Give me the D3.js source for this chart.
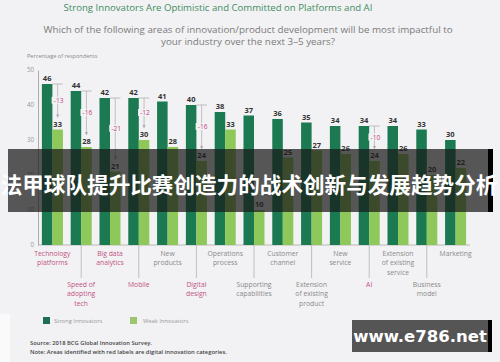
<!DOCTYPE html>
<html><head><meta charset="utf-8">
<script src="https://cdn.jsdelivr.net/npm/d3@7"></script>
<style>html,body{margin:0;padding:0;background:#f2f2f4;}svg{display:block;}</style>
</head><body>
<svg id="c" width="500" height="362"></svg>
<script>
const categories = ["Technology platforms","Speed of adopting tech","Big data analytics","Mobile","New products","Digital design","Operations process","Supporting capabilities","Customer channel","Extension of existing product","New service","AI","Extension of existing service","Business model","Marketing"];
const labelLines = [["Technology","platforms"],["Speed of","adopting","tech"],["Big data","analytics"],["Mobile"],["New","products"],["Digital","design"],["Operations","process"],["Supporting","capabilities"],["Customer","channel"],["Extension","of existing","product"],["New","service"],["AI"],["Extension","of existing","service"],["Business","model"],["Marketing"]];
const strong = [46,44,42,42,41,40,38,37,36,35,34,34,34,33,30];
const weak = [33,28,21,30,28,24,33,10,25,27,26,24,26,20,22];
const digital = [true,true,true,true,false,true,false,false,false,false,false,true,false,false,false];
const yTicks = [0,10,20,30,40,50];

const svg = d3.select("#c");
const W=500,H=362;
svg.append("rect").attr("x",0).attr("y",0).attr("width",W).attr("height",H).attr("fill","#f2f2f4");
svg.append("rect").attr("x",0).attr("y",314).attr("width",10).attr("height",48).attr("fill","#fafafa");

const x = d3.scaleBand().domain(categories).range([38,470]).paddingInner(0.27).paddingOuter(0.135);
const x2 = d3.scaleBand().domain(["s","w"]).range([0,x.bandwidth()]);
const y = d3.scaleLinear().domain([0,50]).range([245,70]);

// titles
svg.append("text").attr("x",218).attr("y",11).attr("text-anchor","middle").attr("font-family","Open Sans, sans-serif").attr("font-size",9.6).attr("fill","#3f8d63").text("Strong Innovators Are Optimistic and Committed on Platforms and AI");
svg.append("text").attr("x",248).attr("y",33).attr("text-anchor","middle").attr("font-family","Open Sans, sans-serif").attr("font-size",9.8).attr("fill","#7a7a7a").text("Which of the following areas of innovation/product development will be most impactful to");
svg.append("text").attr("x",248).attr("y",45).attr("text-anchor","middle").attr("font-family","Open Sans, sans-serif").attr("font-size",9.8).attr("fill","#7a7a7a").text("your industry over the next 3–5 years?");
svg.append("text").attr("x",27).attr("y",58).attr("font-family","Open Sans, sans-serif").attr("font-size",5.6).attr("fill","#888").text("Percentage of respondents");

// y axis
const ya = svg.append("g").attr("transform","translate(38,0)").call(d3.axisLeft(y).tickValues(yTicks).tickSize(0).tickPadding(4));
ya.select(".domain").attr("stroke","#999").attr("stroke-width",0.8);
ya.selectAll("text").attr("font-family","Open Sans, sans-serif").attr("font-size",6.2).attr("fill","#999");

// baseline
svg.append("line").attr("x1",38).attr("x2",470).attr("y1",y(0)).attr("y2",y(0)).attr("stroke","#aaa").attr("stroke-width",0.8);

const g = svg.append("g");
categories.forEach((c,i)=>{
  const gx = x(c);
  g.append("rect").attr("x",gx+x2("s")).attr("y",y(strong[i])).attr("width",x2.bandwidth()).attr("height",y(0)-y(strong[i])).attr("fill","#1b7a52");
  g.append("rect").attr("x",gx+x2("w")).attr("y",y(weak[i])).attr("width",x2.bandwidth()).attr("height",y(0)-y(weak[i])).attr("fill","#8fc85a");
  g.append("text").attr("x",gx+x2("s")+x2.bandwidth()/2).attr("y",y(strong[i])-3).attr("text-anchor","middle").attr("font-family","Open Sans, sans-serif").attr("font-weight","bold").attr("font-size",7.5).attr("fill","#333").text(strong[i]);
  g.append("text").attr("x",gx+x2("w")+x2.bandwidth()/2).attr("y",y(weak[i])-3).attr("text-anchor","middle").attr("font-family","Open Sans, sans-serif").attr("font-weight","bold").attr("font-size",7.5).attr("fill","#333").text(weak[i]);
  if(digital[i]){
    const cx = gx+x2("w")+x2.bandwidth()/2;
    const y1 = y(strong[i]), y2 = y(weak[i])-12;
    g.append("line").attr("x1",gx+x2("w")).attr("x2",gx+x2("w")+x2.bandwidth()).attr("y1",y1).attr("y2",y1).attr("stroke","#aaa").attr("stroke-width",0.7);
    g.append("line").attr("x1",cx).attr("x2",cx).attr("y1",y1).attr("y2",y2).attr("stroke","#aaa").attr("stroke-width",0.7);
    g.append("path").attr("d",`M${cx-1.6},${y2-3}L${cx+1.6},${y2-3}L${cx},${y2}Z`).attr("fill","#aaa");
    const my=(y1+y2)/2;
    g.append("rect").attr("x",cx-6).attr("y",my-4).attr("width",13).attr("height",7).attr("fill","#f2f2f4");
    g.append("text").attr("x",cx+1).attr("y",my+2.3).attr("text-anchor","middle").attr("font-family","Open Sans, sans-serif").attr("font-size",6.6).attr("fill","#c2427c").text("-"+(strong[i]-weak[i]));
  }
  // category labels
  const cx0 = gx + x.bandwidth()/2;
  const odd = i%2===1;
  const y0 = odd?287:256;
  if(odd){
    g.append("line").attr("x1",cx0).attr("x2",cx0).attr("y1",y(0)).attr("y2",278).attr("stroke","#aaa").attr("stroke-width",0.7);
  }
  labelLines[i].forEach((ln,k)=>{
    g.append("text").attr("x",cx0).attr("y",y0+k*9.3).attr("text-anchor","middle").attr("font-family","Open Sans, sans-serif").attr("font-size",6.8).attr("fill",digital[i]?"#c2527f":"#8a8a8a").text(ln);
  });
});

// legend
svg.append("rect").attr("x",43).attr("y",317).attr("width",7).attr("height",7).attr("fill","#1f6e50");
svg.append("text").attr("x",54).attr("y",323).attr("font-family","Open Sans, sans-serif").attr("font-size",5.8).attr("fill","#999").text("Strong Innovators");
svg.append("rect").attr("x",130).attr("y",317).attr("width",7).attr("height",7).attr("fill","#9cc66c");
svg.append("text").attr("x",143).attr("y",323).attr("font-family","Open Sans, sans-serif").attr("font-size",5.8).attr("fill","#999").text("Weak Innovators");

svg.append("text").attr("x",30).attr("y",345).attr("font-family","Open Sans, sans-serif").attr("font-weight","600").attr("font-size",5.8).attr("fill","#444").text("Source: 2018 BCG Global Innovation Survey.");
svg.append("text").attr("x",30).attr("y",354).attr("font-family","Open Sans, sans-serif").attr("font-weight","600").attr("font-size",5.8).attr("fill","#444").text("Note: Areas identified with red labels are digital innovation categories.");

// banner overlay
svg.append("rect").attr("x",8).attr("y",149).attr("width",484).attr("height",63).attr("fill","rgba(25,25,25,0.72)");
svg.append("rect").attr("x",488).attr("y",149).attr("width",5).attr("height",63).attr("fill","#000");
svg.append("text").attr("x",249).attr("y",193).attr("text-anchor","middle").attr("font-family","Noto Sans CJK SC, sans-serif").attr("font-weight","bold").attr("font-size",21.6).attr("fill","#fff").text("法甲球队提升比赛创造力的战术创新与发展趋势分析");

// watermark
svg.append("rect").attr("x",352).attr("y",320).attr("width",137).attr("height",32).attr("fill","#555");
svg.append("rect").attr("x",488).attr("y",320).attr("width",4).attr("height",32).attr("fill","#000");
svg.append("text").attr("x",420).attr("y",342).attr("text-anchor","middle").attr("font-family","DejaVu Sans, sans-serif").attr("font-weight","bold").attr("font-size",16.5).attr("fill","#fff").text("www.e786.net");
</script>
</body></html>
